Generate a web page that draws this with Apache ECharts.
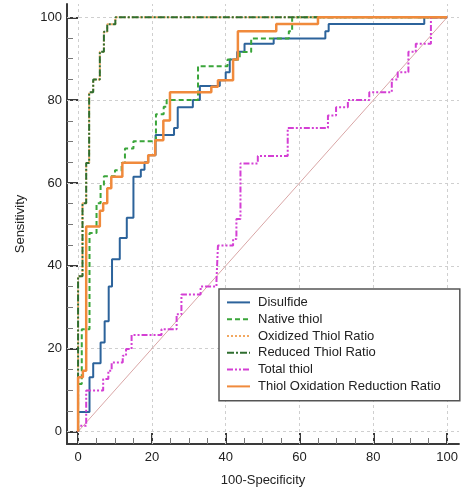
<!DOCTYPE html>
<html>
<head>
<meta charset="utf-8">
<script src="https://cdn.jsdelivr.net/npm/echarts@6/dist/echarts.min.js"></script>
<style>
html, body { margin: 0; padding: 0; background: #fff; }
#chart { width: 461px; height: 492px; }
</style>
</head>
<body>
<div id="chart"></div>
<script>
// ROC steps: x = 100-Specificity, y = Sensitivity (corner at top of each rise)
const disulfideX = [0, 0, 3.1, 4.1, 6.1, 7.2, 8.3, 9.2, 11.3, 13.2, 15, 17, 18, 19, 21, 26, 27, 31.1, 33, 38.4, 40, 41.1, 43.1, 45.1, 53, 67, 67.9, 93.8, 100]
const disulfideY = [0, 4.7, 13.1, 16.5, 21.5, 26.6, 35, 41.6, 46.7, 51.6, 61.5, 63.2, 65, 66.7, 71.6, 73.3, 78.3, 80, 83.4, 84.8, 86.7, 89.8, 91.7, 93.6, 94.9, 96.6, 98.4, 100, 100]

const nativeX = [0, 0, 1, 3.1, 5, 6.1, 7, 10, 11.8, 12.7, 15, 21.1, 23.2, 24, 32.5, 40.5, 43.8, 46.9, 57.1, 58, 100]
const nativeY = [0, 11.5, 24.7, 47.9, 55.1, 59.5, 61.6, 63.1, 64.8, 68.3, 70.1, 76.6, 78.4, 80, 88.2, 89.8, 91.6, 94.9, 96.6, 100, 100]

const oxidizedX = [0, 0, 1.2, 2.2, 3, 4.1, 5.9, 7, 7.9, 10.1, 100]
const oxidizedY = [0, 37.5, 55.1, 64.8, 81.9, 85, 91.7, 96.5, 98.3, 100, 100]

const reducedX = [0, 0, 1.2, 2.2, 3, 4.1, 5.9, 7, 7.9, 10.1, 100]
const reducedY = [0, 37.5, 55.1, 64.8, 81.9, 85, 91.7, 96.5, 98.3, 100, 100]

const totalX = [0, 0, 2.2, 6.8, 8.2, 9.1, 12.1, 13, 14.5, 22.6, 26.7, 28, 33.2, 37.5, 37.9, 42, 42.9, 44, 48.7, 56.8, 67.7, 69.9, 73.1, 78.9, 85, 86.6, 89.5, 91.5, 95.6, 100]
const totalY = [0, 1.4, 9.9, 12.7, 14.7, 16.7, 18.3, 19.9, 23.3, 24.7, 28.3, 33.1, 35, 36.5, 44.9, 46.5, 51.3, 64.7, 66.5, 73.3, 76.3, 78.3, 80, 81.9, 85, 86.7, 91.7, 93.6, 100, 100]

const torrX = [0, 0, 1.3, 2.2, 5.9, 6.8, 7.9, 9, 12, 19, 20.9, 23.1, 24.9, 36.1, 37.9, 42, 43.3, 53.7, 65, 100]
const torrY = [0, 13.1, 14.7, 49.5, 53.3, 55.1, 58.7, 61.5, 64.9, 66.7, 70.3, 75.1, 81.9, 83.2, 84.8, 89.8, 96.6, 98.4, 100, 100]

const diagX = [0, 100]
const diagY = [0, 100]

const majorTicks = [0, 20, 40, 60, 80, 100]
const minorTicks = [5, 10, 15, 25, 30, 35, 45, 50, 55, 65, 70, 75, 85, 90, 95]
const legendNames = ['Disulfide', 'Native thiol', 'Oxidized Thiol Ratio', 'Reduced Thiol Ratio', 'Total thiol', 'Thiol Oxidation Reduction Ratio']

const font = 'Liberation Sans, Arial, sans-serif'
const axisColor = '#3a3a3a'

const pairs = (xs, ys) => xs.map((x, i) => [x, ys[i]])

const rocSeries = (name, xs, ys, color, type, width) => ({
  name: name,
  type: 'line',
  step: 'end',
  symbol: 'none',
  silent: true,
  z: 3,
  data: pairs(xs, ys),
  itemStyle: { color: color },
  lineStyle: { color: color, width: width, type: type }
})

// major axis with labels + an overlay axis only for the minor ticks
const makeAxes = (pos, name, nameGap, labelMargin) => [
  {
    type: 'value',
    position: pos,
    min: -3,
    max: 103.2,
    name: name,
    nameLocation: 'middle',
    nameGap: nameGap,
    nameTextStyle: { fontSize: 13, color: '#222', fontFamily: font },
    axisLine: { show: true, onZero: false, lineStyle: { color: axisColor, width: 2 } },
    axisTick: { show: true, inside: true, length: 11, customValues: majorTicks, lineStyle: { color: axisColor, width: 2 } },
    axisLabel: { customValues: majorTicks, fontSize: 13, color: '#222', margin: labelMargin, fontFamily: font },
    splitLine: { show: false }
  },
  {
    type: 'value',
    position: pos,
    min: -3,
    max: 103.2,
    axisLine: { show: false, onZero: false },
    axisTick: { show: true, inside: true, length: 6, customValues: minorTicks, lineStyle: { color: '#777', width: 1 } },
    axisLabel: { show: false },
    splitLine: { show: false }
  }
]

const gridLines = majorTicks.map((v) => ({ xAxis: v })).concat(majorTicks.map((v) => ({ yAxis: v })))

const myEcharts = echarts.init(document.getElementById('chart'))
const option = {
  animation: false,
  textStyle: { fontFamily: font },
  grid: { left: 67, top: 4, width: 393, height: 442, containLabel: false },
  xAxis: makeAxes('bottom', '100-Specificity', 30, 7),
  yAxis: makeAxes('left', 'Sensitivity', 40, 5),
  legend: {
    z: 10,
    orient: 'vertical',
    left: 219,
    top: 289,
    data: legendNames,
    selectedMode: false,
    itemWidth: 23,
    itemHeight: 10,
    itemGap: 0,
    padding: [5, 19, 6, 7],
    backgroundColor: '#fff',
    borderColor: '#555',
    borderWidth: 1.5,
    borderRadius: 0,
    itemStyle: { opacity: 0 },
    textStyle: { fontSize: 13, color: '#222', lineHeight: 16.8, fontFamily: font, padding: [0, 0, 0, 3] }
  },
  series: [
    {
      type: 'line',
      symbol: 'none',
      silent: true,
      z: 2,
      data: pairs(diagX, diagY),
      lineStyle: { color: '#d9a6a6', width: 1 },
      markLine: {
        z: 1,
        silent: true,
        symbol: 'none',
        label: { show: false },
        lineStyle: { color: '#cfcfcf', type: [3, 3], width: 1 },
        data: gridLines
      }
    },
    rocSeries('Disulfide', disulfideX, disulfideY, '#2c639b', 'solid', 2),
    rocSeries('Native thiol', nativeX, nativeY, '#3aa53a', [5, 3], 2),
    rocSeries('Oxidized Thiol Ratio', oxidizedX, oxidizedY, '#f2a861', [2, 2], 2),
    rocSeries('Reduced Thiol Ratio', reducedX, reducedY, '#2f6e2f', [7, 2, 2, 2], 2),
    rocSeries('Total thiol', totalX, totalY, '#d43fd4', [6, 2, 2, 2, 2, 2], 2),
    rocSeries('Thiol Oxidation Reduction Ratio', torrX, torrY, '#f08a3c', 'solid', 2.5)
  ]
}
myEcharts.setOption(option)
</script>
</body>
</html>
